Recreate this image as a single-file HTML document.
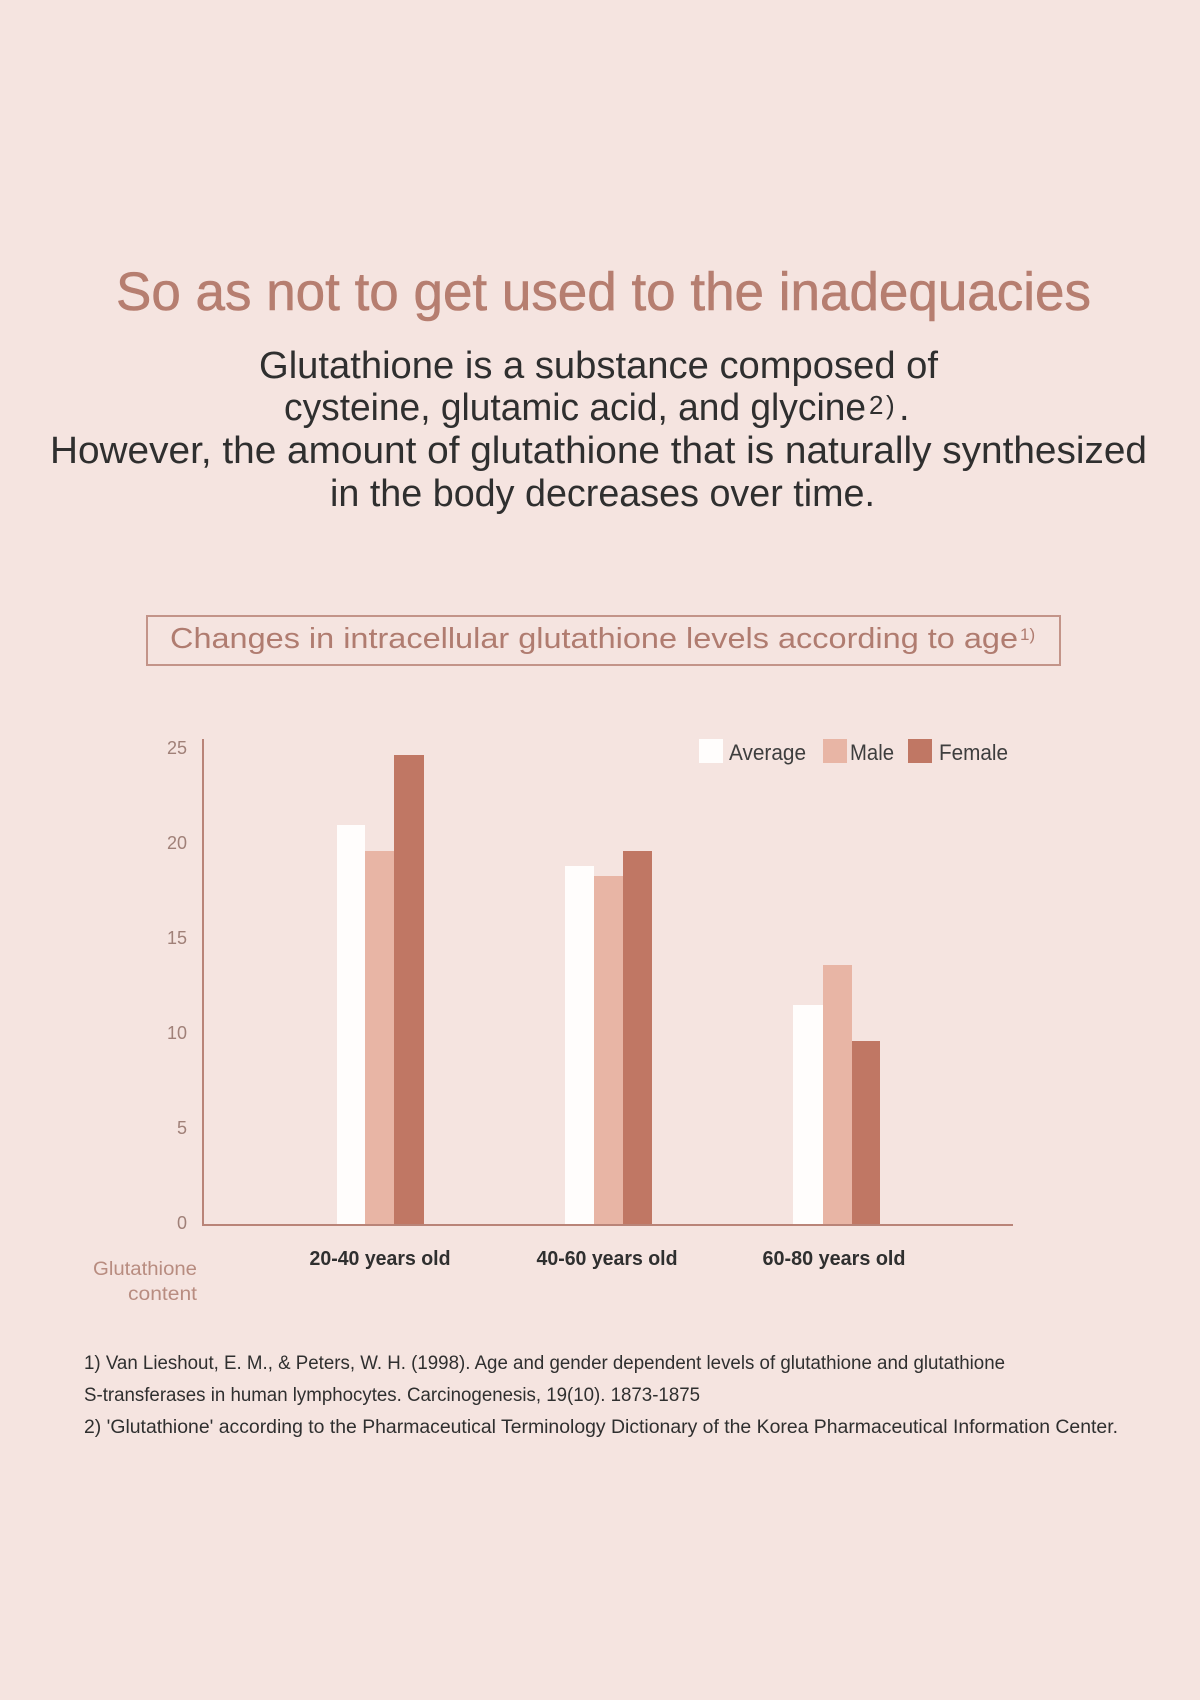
<!DOCTYPE html>
<html>
<head>
<meta charset="utf-8">
<style>
  html,body{margin:0;padding:0;background:#f5e4e0;}
  svg{display:block;}
  text{font-family:"Liberation Sans", sans-serif;}
</style>
</head>
<body>
<svg width="1200" height="1700" viewBox="0 0 1200 1700" xmlns="http://www.w3.org/2000/svg">
  <rect x="0" y="0" width="1200" height="1700" fill="#f5e4e0"/>

  <!-- Title -->
  <text x="116" y="310" font-size="54" fill="#b67e70" stroke="#b67e70" stroke-width="0.6" textLength="975" lengthAdjust="spacingAndGlyphs">So as not to get used to the inadequacies</text>

  <!-- Body -->
  <text x="259" y="378" font-size="38" fill="#2f2f2f" textLength="679" lengthAdjust="spacingAndGlyphs">Glutathione is a substance composed of</text>
  <text x="284" y="420" font-size="38" fill="#2f2f2f" textLength="582" lengthAdjust="spacingAndGlyphs">cysteine, glutamic acid, and glycine</text>
  <text x="869" y="414" font-size="26" fill="#2f2f2f">2</text>
  <text x="886" y="414" font-size="26" fill="#2f2f2f">)</text>
  <text x="899" y="420" font-size="38" fill="#2f2f2f">.</text>
  <text x="50" y="463" font-size="38" fill="#2f2f2f" textLength="1097" lengthAdjust="spacingAndGlyphs">However, the amount of glutathione that is naturally synthesized</text>
  <text x="330" y="506" font-size="38" fill="#2f2f2f" textLength="545" lengthAdjust="spacingAndGlyphs">in the body decreases over time.</text>

  <!-- Box heading -->
  <rect x="147" y="616" width="913" height="49" fill="none" stroke="#c39489" stroke-width="2"/>
  <text x="170" y="648" font-size="29" fill="#b07c70" textLength="848" lengthAdjust="spacingAndGlyphs">Changes in intracellular glutathione levels according to age</text>
  <text x="1020" y="640" font-size="17" fill="#b07c70">1)</text>

  <!-- Legend -->
  <rect x="699" y="739" width="24" height="24" fill="#fffdfc"/>
  <text x="729" y="760" font-size="22" fill="#3e3e3e" textLength="77" lengthAdjust="spacingAndGlyphs">Average</text>
  <rect x="823" y="739" width="24" height="24" fill="#e8b5a5"/>
  <text x="850" y="760" font-size="22" fill="#3e3e3e" textLength="44" lengthAdjust="spacingAndGlyphs">Male</text>
  <rect x="908" y="739" width="24" height="24" fill="#c07764"/>
  <text x="939" y="760" font-size="22" fill="#3e3e3e" textLength="69" lengthAdjust="spacingAndGlyphs">Female</text>

  <!-- Y tick labels -->
  <g font-size="18" fill="#a08078" text-anchor="end">
    <text x="187" y="754">25</text>
    <text x="187" y="849">20</text>
    <text x="187" y="944">15</text>
    <text x="187" y="1039">10</text>
    <text x="187" y="1134">5</text>
    <text x="187" y="1229">0</text>
  </g>

  <!-- Bars group 1 -->
  <rect x="337" y="825" width="28" height="400" fill="#fffdfc"/>
  <rect x="365" y="851" width="29" height="374" fill="#e8b5a5"/>
  <rect x="394" y="755" width="30" height="470" fill="#c07764"/>
  <!-- Bars group 2 -->
  <rect x="565" y="866" width="29" height="359" fill="#fffdfc"/>
  <rect x="594" y="876" width="29" height="349" fill="#e8b5a5"/>
  <rect x="623" y="851" width="29" height="374" fill="#c07764"/>
  <!-- Bars group 3 -->
  <rect x="793" y="1005" width="30" height="220" fill="#fffdfc"/>
  <rect x="823" y="965" width="29" height="260" fill="#e8b5a5"/>
  <rect x="852" y="1041" width="28" height="184" fill="#c07764"/>

  <!-- Axes -->
  <line x1="203" y1="739" x2="203" y2="1226" stroke="#b98478" stroke-width="2"/>
  <line x1="202" y1="1225" x2="1013" y2="1225" stroke="#b98478" stroke-width="2"/>

  <!-- X labels -->
  <g font-size="20" fill="#2f2f2f" text-anchor="middle" font-weight="bold">
    <text x="380" y="1265" textLength="141" lengthAdjust="spacingAndGlyphs">20-40 years old</text>
    <text x="607" y="1265" textLength="141" lengthAdjust="spacingAndGlyphs">40-60 years old</text>
    <text x="834" y="1265" textLength="143" lengthAdjust="spacingAndGlyphs">60-80 years old</text>
  </g>

  <!-- Y axis title -->
  <g font-size="19" fill="#b88c80" text-anchor="end">
    <text x="197" y="1275" textLength="104" lengthAdjust="spacingAndGlyphs">Glutathione</text>
    <text x="197" y="1300" textLength="69" lengthAdjust="spacingAndGlyphs">content</text>
  </g>

  <!-- Footnotes -->
  <g font-size="19" fill="#2f2f2f">
    <text x="84" y="1369" textLength="921" lengthAdjust="spacingAndGlyphs">1) Van Lieshout, E. M., &amp; Peters, W. H. (1998). Age and gender dependent levels of glutathione and glutathione</text>
    <text x="84" y="1401" textLength="616" lengthAdjust="spacingAndGlyphs">S-transferases in human lymphocytes. Carcinogenesis, 19(10). 1873-1875</text>
    <text x="84" y="1433" textLength="1034" lengthAdjust="spacingAndGlyphs">2) 'Glutathione' according to the Pharmaceutical Terminology Dictionary of the Korea Pharmaceutical Information Center.</text>
  </g>
</svg>
</body>
</html>
